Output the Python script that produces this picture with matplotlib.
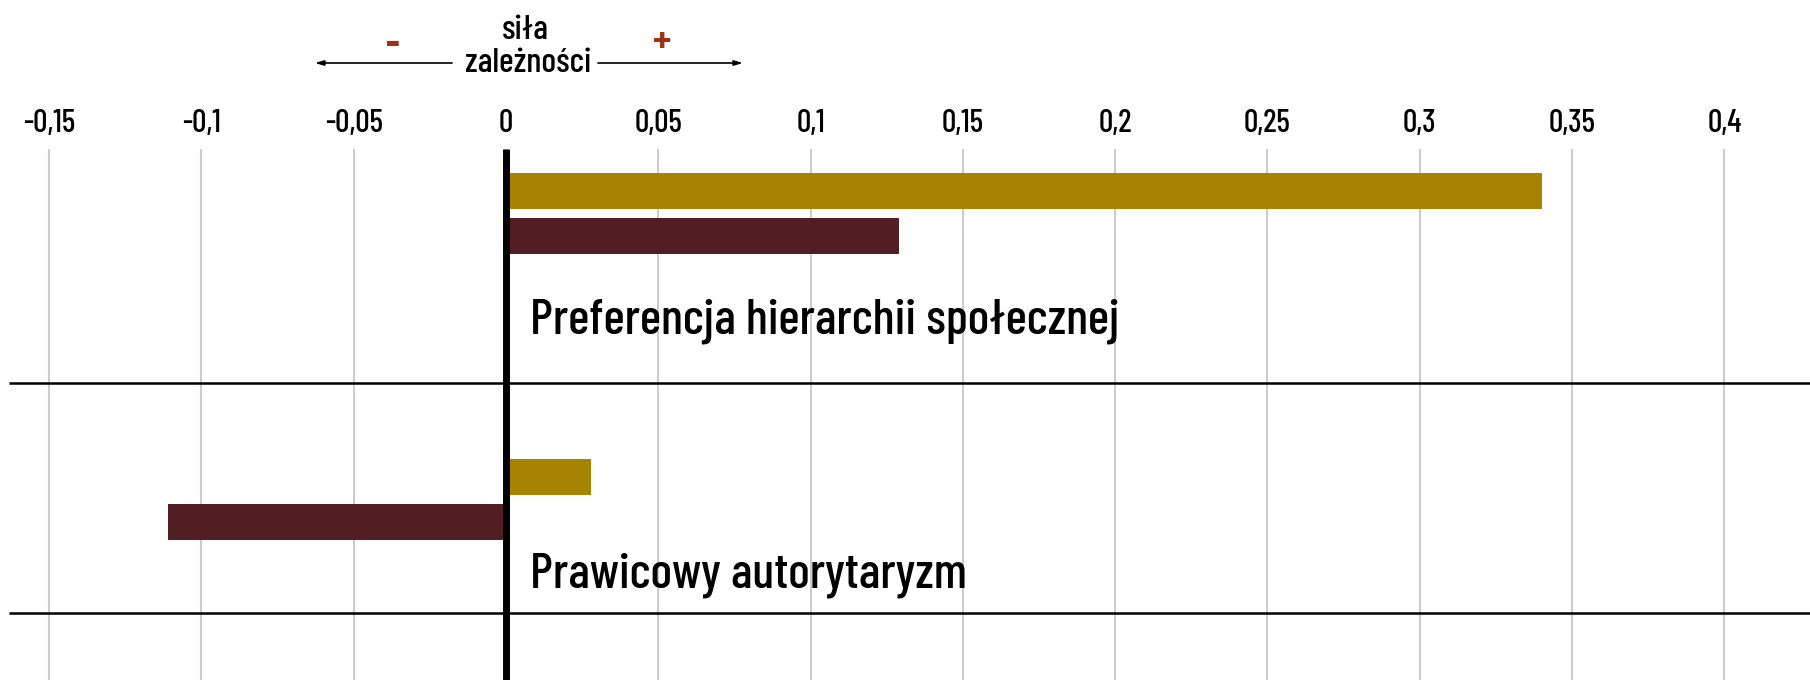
import matplotlib
matplotlib.use("Agg")
import matplotlib.pyplot as plt

# data: correlation strength for two predictors, two series each
categories = ["Preferencja hierarchii społecznej", "Prawicowy autorytaryzm"]
series_gold = [0.340, 0.028]
series_maroon = [0.129, -0.111]
ticks = [-0.15, -0.1, -0.05, 0, 0.05, 0.1, 0.15, 0.2, 0.25, 0.3, 0.35, 0.4]
tick_labels = ["-0,15", "-0,1", "-0,05", "0", "0,05", "0,1", "0,15", "0,2", "0,25", "0,3", "0,35", "0,4"]

GOLD = "#a68400"
MAROON = "#521e23"
RED = "#9b3412"
FONT = ["Barlow Condensed", "Roboto Condensed", "DejaVu Sans"]

# layout (y measured in pixels from the top of the canvas)
row_y = [191, 477]
bar_gap = 45
bar_h = 36
label_y = [333, 587]
sep_y = [383, 613]
grid_top = 149

fig = plt.figure(figsize=(18.1, 6.8), dpi=100)
ax = fig.add_axes([0, 0, 1, 1])
ax.set_xlim(-0.1661, 0.4281)
ax.set_ylim(680, 0)
ax.axis("off")

# vertical gridlines and tick labels
ax.vlines(ticks, grid_top, 680, color="#cccccc", lw=1.5, zorder=1)
for t, lab in zip(ticks, tick_labels):
    ax.text(t, 132, lab, ha="center", va="baseline", fontsize=23,
            family=FONT, weight=500, color="black")

# row separators
for y in sep_y:
    ax.hlines(y, -0.163, 0.4281, color="black", lw=1.8, zorder=2)

# bars
ax.barh(row_y, series_gold, height=bar_h, color=GOLD, zorder=3)
ax.barh([y + bar_gap for y in row_y], series_maroon, height=bar_h, color=MAROON, zorder=3)

# zero line
ax.vlines(0, grid_top, 680, color="black", lw=5, zorder=4)

# category labels
for y, cat in zip(label_y, categories):
    ax.text(0.008, y, cat, ha="left", va="baseline", fontsize=36.5,
            family=FONT, weight=500, color="black", zorder=5)

# header: direction of the relationship
ax.text(0.0062, 39, "siła", ha="center", va="baseline", fontsize=25,
        family=FONT, weight=500)
ax.text(0.0072, 72, "zależności", ha="center", va="baseline", fontsize=25,
        family=FONT, weight=500)
arrow = dict(arrowstyle="-|>,head_length=0.5,head_width=0.15", color="black", lw=1.2,
             shrinkA=0, shrinkB=0)
ax.annotate("", xy=(-0.0627, 63), xytext=(-0.0177, 63), arrowprops=arrow)
ax.annotate("", xy=(0.0778, 63), xytext=(0.0302, 63), arrowprops=arrow)
ax.text(-0.037, 45, "-", ha="center", va="center", fontsize=30, family=FONT,
        weight="bold", color=RED)
ax.text(0.0512, 43, "+", ha="center", va="center", fontsize=30, family=FONT,
        weight="bold", color=RED)

fig.savefig("out.png", dpi=100)
